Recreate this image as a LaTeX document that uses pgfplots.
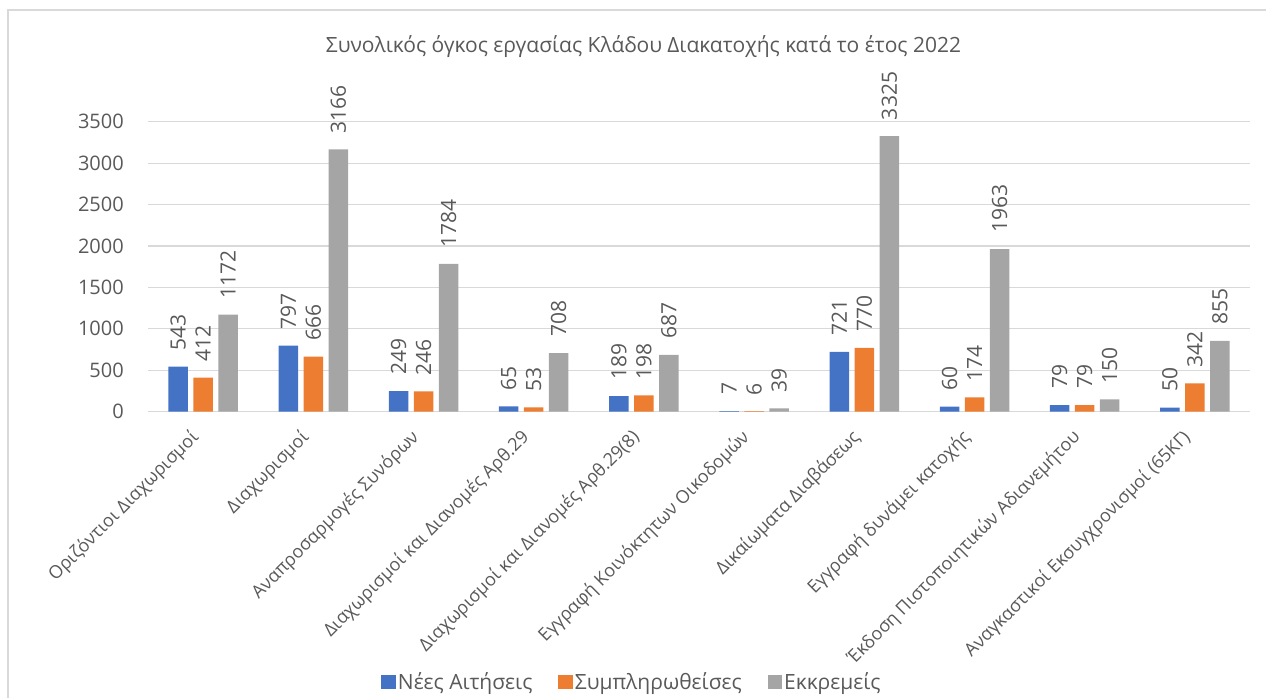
\documentclass[border=0pt]{standalone}
\usepackage{pgfplots}
\pgfplotsset{compat=1.18}
\usepackage{fontspec}
\setmainfont{Open Sans}
\definecolor{cBlue}{HTML}{4472C4}
\definecolor{cOrange}{HTML}{ED7D31}
\definecolor{cGray}{HTML}{A5A5A5}
\definecolor{txt}{HTML}{595959}
\definecolor{grid}{HTML}{D9D9D9}
\begin{document}
\begin{tikzpicture}
\path[use as bounding box] (0pt,0pt) rectangle (1266pt,697pt);
\draw[grid, line width=1.2pt] (8pt,-20pt) rectangle (1290pt,687pt);
\begin{axis}[
  at={(148pt,285.3pt)}, anchor=south west,
  scale only axis, width=1102pt, height=290pt,
  ybar=5.5pt, bar width=19.5pt,
  ymin=0, ymax=3500, ytick={0,500,...,3500},
  xmin=-0.5, xmax=9.5, xtick={0,...,9},
  xticklabels={Οριζόντιοι Διαχωρισμοί, Διαχωρισμοί, Αναπροσαρμογές Συνόρων,
    Διαχωρισμοί και Διανομές Αρθ.29, Διαχωρισμοί και Διανομές Αρθ.29(8),
    Εγγραφή Κοινόκτητων Οικοδομών, Δικαίωματα Διαβάσεως, Εγγραφή δυνάμει κατοχής,
    Έκδοση Πιστοποιητικών Αδιανεμήτου, Αναγκαστικοί Εκσυγχρονισμοί (65ΚΓ)},
  axis lines=left, axis line style={-},
  y axis line style={draw=none},
  x axis line style={draw=grid, line width=1.2pt},
  ymajorgrids, major grid style={draw=grid, line width=1.2pt},
  major tick length=0pt,
  tick style={draw=none},
  /pgf/number format/assume math mode=true,
  /pgf/number format/1000 sep={},
  yticklabel style={font=\fontsize{20}{24}\selectfont, color=txt, anchor=east, inner sep=0pt, xshift=-24pt},
  xticklabel style={font=\fontsize{18}{21}\selectfont, color=txt, xshift=-14pt, yshift=-16pt, rotate=45, anchor=north east, inner sep=0pt},
  clip=false,
  nodes near coords,
  every node near coord/.append style={yshift=16pt, rotate=90, anchor=west, inner sep=0pt,
    font=\fontsize{21}{24}\selectfont, color=txt},
  title={Συνολικός όγκος εργασίας Κλάδου Διακατοχής κατά το έτος 2022},
  title style={at={(0.4496,1.237)}, anchor=center, font=\fontsize{21}{25}\selectfont, color=txt},
  legend columns=3,
  legend style={at={(0.4392,-0.932)}, anchor=center, draw=none, fill=none,
    font=\fontsize{21}{24}\selectfont, text=txt,
    /tikz/every even column/.append style={column sep=24pt}},
  legend image code/.code={\fill[#1, draw=none] (0pt,-7.2pt) rectangle (14.5pt,7.2pt);},
]
\addplot[fill=cBlue, draw=none] coordinates {(0,543) (1,797) (2,249) (3,65) (4,189) (5,7) (6,721) (7,60) (8,79) (9,50)};
\addplot[fill=cOrange, draw=none] coordinates {(0,412) (1,666) (2,246) (3,53) (4,198) (5,6) (6,770) (7,174) (8,79) (9,342)};
\addplot[fill=cGray, draw=none] coordinates {(0,1172) (1,3166) (2,1784) (3,708) (4,687) (5,39) (6,3325) (7,1963) (8,150) (9,855)};
\legend{Νέες Αιτήσεις, Συμπληρωθείσες, Εκκρεμείς}
\end{axis}
\end{tikzpicture}
\end{document}
